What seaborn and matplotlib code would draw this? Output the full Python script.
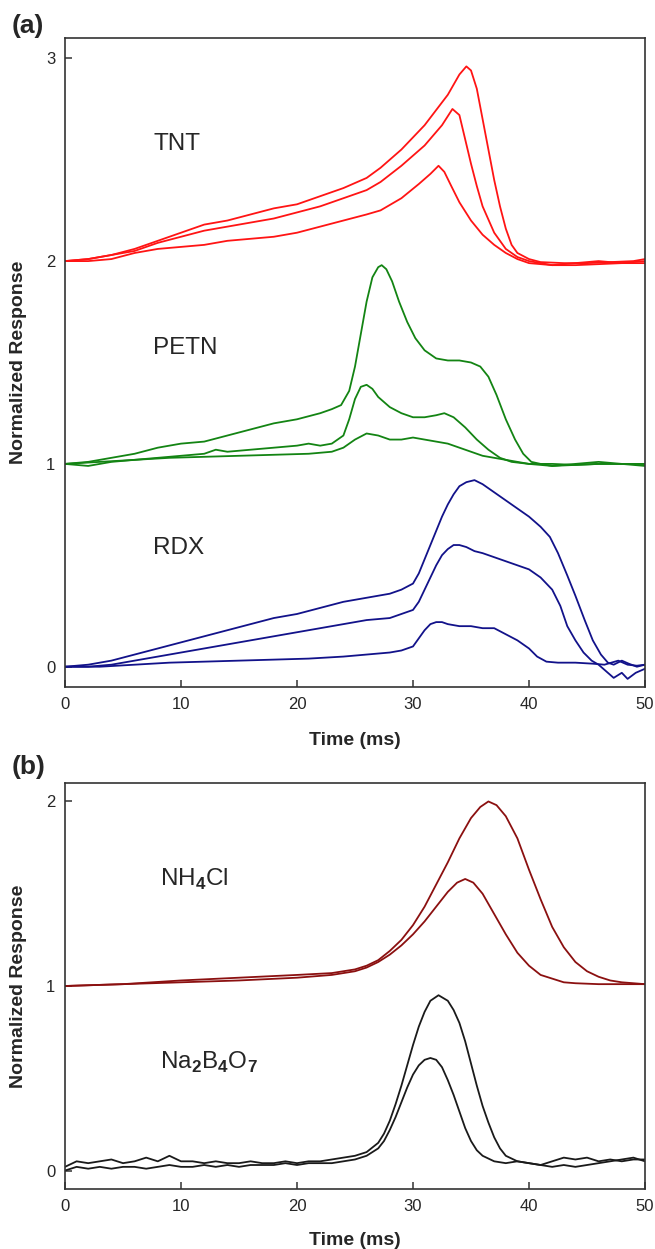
import matplotlib
matplotlib.use("Agg")
import matplotlib.pyplot as plt
import seaborn as sns

# ---- panel (a): explosives ----
tnt1_t = [0, 2, 4, 6, 8, 10, 12, 14, 16, 18, 20, 22, 24, 26, 27.2, 29, 31, 33, 34, 34.6, 35, 35.5, 36, 36.5, 37, 37.5, 38, 38.5, 39, 40, 41, 43, 45, 47, 49, 50]
tnt1_v = [2.0, 2.01, 2.03, 2.06, 2.1, 2.14, 2.18, 2.2, 2.23, 2.26, 2.28, 2.32, 2.36, 2.41, 2.46, 2.55, 2.67, 2.82, 2.92, 2.96, 2.94, 2.85, 2.7, 2.55, 2.4, 2.27, 2.16, 2.08, 2.04, 2.01, 1.995, 1.99, 1.99, 1.995, 2.0, 2.01]
tnt2_t = [0, 2, 4, 6, 8, 10, 12, 14, 16, 18, 20, 22, 24, 26, 27.2, 29, 31, 32.5, 33.4, 34, 34.5, 35, 35.5, 36, 37, 38, 39, 40, 42, 44, 46, 48, 50]
tnt2_v = [2.0, 2.01, 2.03, 2.05, 2.09, 2.12, 2.15, 2.17, 2.19, 2.21, 2.24, 2.27, 2.31, 2.35, 2.39, 2.47, 2.57, 2.67, 2.75, 2.72, 2.6, 2.48, 2.37, 2.27, 2.14, 2.06, 2.02, 2.0, 1.98, 1.99, 2.0, 1.99, 2.0]
tnt3_t = [0, 2, 4, 6, 8, 10, 12, 14, 16, 18, 20, 22, 24, 26, 27.2, 29, 30.5, 31.5, 32.2, 32.7, 33.3, 34, 35, 36, 37, 38, 39, 40, 42, 44, 46, 48, 50]
tnt3_v = [2.0, 2.0, 2.01, 2.04, 2.06, 2.07, 2.08, 2.1, 2.11, 2.12, 2.14, 2.17, 2.2, 2.23, 2.25, 2.31, 2.38, 2.43, 2.47, 2.44, 2.37, 2.29, 2.2, 2.13, 2.08, 2.04, 2.01, 1.99, 1.98, 1.98, 1.985, 1.99, 1.99]

petn1_t = [0, 2, 4, 6, 8, 10, 12, 14, 16, 18, 20, 22, 23, 23.8, 24.5, 25, 25.5, 26, 26.5, 27, 27.3, 27.7, 28.2, 28.8, 29.5, 30.2, 31, 32, 33, 34, 35, 35.8, 36.5, 37.2, 38, 38.8, 39.5, 40.2, 41, 42, 44, 46, 48, 50]
petn1_v = [1.0, 1.01, 1.03, 1.05, 1.08, 1.1, 1.11, 1.14, 1.17, 1.2, 1.22, 1.25, 1.27, 1.29, 1.36, 1.48, 1.64, 1.8, 1.92, 1.97, 1.98, 1.96, 1.9, 1.8, 1.7, 1.62, 1.56, 1.52, 1.51, 1.51, 1.5, 1.48, 1.43, 1.34, 1.22, 1.12, 1.05, 1.01, 1.0, 0.99, 0.995, 1.0, 1.0, 1.0]
petn2_t = [0, 2, 4, 6, 8, 10, 12, 13, 14, 16, 18, 20, 21, 22, 23, 24, 24.5, 25, 25.5, 26, 26.5, 27, 28, 29, 30, 31, 32, 32.7, 33.5, 34.5, 35.5, 36.5, 37.5, 38.5, 40, 42, 44, 46, 48, 50]
petn2_v = [1.0, 0.99, 1.01, 1.02, 1.03, 1.04, 1.05, 1.07, 1.06, 1.07, 1.08, 1.09, 1.1, 1.09, 1.1, 1.14, 1.22, 1.32, 1.38, 1.39, 1.37, 1.33, 1.28, 1.25, 1.23, 1.23, 1.24, 1.25, 1.23, 1.18, 1.12, 1.07, 1.03, 1.01, 1.0, 0.99, 1.0, 1.01, 1.0, 1.0]
petn3_t = [0, 3, 6, 9, 12, 15, 18, 21, 23, 24, 25, 26, 27, 28, 29, 30, 31, 32, 33, 34, 35, 36, 37, 38, 39, 40, 42, 44, 46, 48, 50]
petn3_v = [1.0, 1.01, 1.02, 1.03, 1.035, 1.04, 1.045, 1.05, 1.06, 1.08, 1.12, 1.15, 1.14, 1.12, 1.12, 1.13, 1.12, 1.11, 1.1, 1.08, 1.06, 1.04, 1.03, 1.02, 1.01, 1.0, 1.0, 0.995, 1.0, 1.0, 0.99]

rdx1_t = [0, 2, 4, 6, 8, 10, 12, 14, 16, 18, 20, 22, 24, 26, 28, 29, 30, 30.5, 31, 31.5, 32, 32.5, 33, 33.5, 34, 34.6, 35.3, 36, 37, 38, 39, 40, 41, 41.8, 42.5, 43.3, 44, 44.8, 45.5, 46.2, 46.8, 47.3, 48, 48.6, 49.3, 50]
rdx1_v = [0.0, 0.01, 0.03, 0.06, 0.09, 0.12, 0.15, 0.18, 0.21, 0.24, 0.26, 0.29, 0.32, 0.34, 0.36, 0.38, 0.41, 0.46, 0.53, 0.6, 0.67, 0.74, 0.8, 0.85, 0.89, 0.91, 0.92, 0.9, 0.86, 0.82, 0.78, 0.74, 0.69, 0.64, 0.56, 0.45, 0.35, 0.23, 0.13, 0.06, 0.02, 0.01, 0.03, 0.015, 0.0, 0.01]
rdx2_t = [0, 2, 4, 6, 8, 10, 12, 14, 16, 18, 20, 22, 24, 26, 28, 29, 30, 30.5, 31, 31.5, 32, 32.5, 33, 33.5, 34, 34.6, 35.3, 36, 37, 38, 39, 40, 41, 42, 42.7, 43.3, 44, 44.7, 45.4, 46, 46.6, 47.3, 48, 48.5, 49.2, 50]
rdx2_v = [0.0, 0.0, 0.01, 0.03, 0.05, 0.07, 0.09, 0.11, 0.13, 0.15, 0.17, 0.19, 0.21, 0.23, 0.24, 0.26, 0.28, 0.32, 0.38, 0.44, 0.5, 0.55, 0.58, 0.6, 0.6, 0.59, 0.57, 0.56, 0.54, 0.52, 0.5, 0.48, 0.44, 0.38, 0.3, 0.2, 0.13, 0.07, 0.03, 0.01, -0.02, -0.055, -0.03, -0.06, -0.03, -0.01]
rdx3_t = [0, 3, 6, 9, 12, 15, 18, 21, 24, 26, 28, 29, 30, 30.5, 31, 31.5, 32, 32.5, 33, 34, 35, 36, 37, 38, 39, 40, 40.7, 41.5, 42.5, 44, 45.5, 46.5, 47.7, 48.5, 49.3, 50]
rdx3_v = [0.0, 0.0, 0.01, 0.02, 0.025, 0.03, 0.035, 0.04, 0.05, 0.06, 0.07, 0.08, 0.1, 0.14, 0.18, 0.21, 0.22, 0.22, 0.21, 0.2, 0.2, 0.19, 0.19, 0.16, 0.13, 0.09, 0.05, 0.025, 0.02, 0.02, 0.015, 0.01, 0.03, 0.01, 0.005, 0.01]

# ---- panel (b): salts ----
nh1_t = [0, 5, 10, 15, 20, 23, 25, 26, 27, 28, 29, 30, 31, 32, 33, 34, 35, 35.8, 36.5, 37.2, 38, 39, 40, 41, 42, 43, 44, 45, 46, 47, 48, 50]
nh1_v = [1.0, 1.01, 1.03, 1.045, 1.06, 1.07, 1.09, 1.11, 1.14, 1.19, 1.25, 1.33, 1.43, 1.55, 1.67, 1.8, 1.91, 1.97, 2.0, 1.98, 1.92, 1.8, 1.63, 1.47, 1.32, 1.21, 1.13, 1.08, 1.05, 1.03, 1.02, 1.01]
nh2_t = [0, 5, 10, 15, 20, 23, 25, 26, 27, 28, 29, 30, 31, 32, 33, 33.8, 34.5, 35.2, 36, 37, 38, 39, 40, 41, 42, 43, 44, 46, 48, 50]
nh2_v = [1.0, 1.01, 1.02, 1.03, 1.045, 1.06, 1.08, 1.1, 1.13, 1.17, 1.22, 1.28, 1.35, 1.43, 1.51, 1.56, 1.58, 1.56, 1.5, 1.39, 1.28, 1.18, 1.11, 1.06, 1.04, 1.02, 1.015, 1.01, 1.01, 1.01]

nab1_t = [0, 1, 2, 3, 4, 5, 6, 7, 8, 9, 10, 11, 12, 13, 14, 15, 16, 17, 18, 19, 20, 21, 22, 23, 24, 25, 26, 27, 27.5, 28, 28.5, 29, 29.5, 30, 30.5, 31, 31.5, 32.2, 33, 33.5, 34, 34.5, 35, 35.5, 36, 36.5, 37, 37.5, 38, 39, 40, 41, 42, 43, 44, 45, 46, 47, 48, 49, 50]
nab1_v = [0.02, 0.05, 0.04, 0.05, 0.06, 0.04, 0.05, 0.07, 0.05, 0.08, 0.05, 0.05, 0.04, 0.05, 0.04, 0.04, 0.05, 0.04, 0.04, 0.05, 0.04, 0.05, 0.05, 0.06, 0.07, 0.08, 0.1, 0.15, 0.2, 0.27, 0.36, 0.46, 0.57, 0.68, 0.78, 0.86, 0.92, 0.95, 0.92, 0.87, 0.8, 0.7, 0.58, 0.46, 0.35, 0.26, 0.18, 0.12, 0.08, 0.05, 0.04, 0.03, 0.05, 0.07, 0.06, 0.07, 0.05, 0.06, 0.05, 0.06, 0.06]
nab2_t = [0, 1, 2, 3, 4, 5, 6, 7, 8, 9, 10, 11, 12, 13, 14, 15, 16, 17, 18, 19, 20, 21, 22, 23, 24, 25, 26, 27, 27.5, 28, 28.5, 29, 29.5, 30, 30.5, 31, 31.5, 32, 32.5, 33, 33.5, 34, 34.5, 35, 35.5, 36, 37, 38, 39, 40, 41, 42, 43, 44, 45, 46, 47, 48, 49, 50]
nab2_v = [0.0, 0.02, 0.01, 0.02, 0.01, 0.02, 0.02, 0.01, 0.02, 0.03, 0.02, 0.02, 0.03, 0.02, 0.03, 0.02, 0.03, 0.03, 0.03, 0.04, 0.03, 0.04, 0.04, 0.04, 0.05, 0.06, 0.08, 0.12, 0.16, 0.22, 0.29, 0.37, 0.45, 0.52, 0.57, 0.6, 0.61, 0.6, 0.56, 0.49, 0.41, 0.32, 0.23, 0.16, 0.11, 0.08, 0.05, 0.04, 0.05, 0.04, 0.03, 0.02, 0.03, 0.02, 0.03, 0.04, 0.05, 0.06, 0.07, 0.05]

sns.set_style("white")
plt.rcParams['font.family'] = ['Liberation Sans', 'DejaVu Sans']
plt.rcParams['mathtext.fontset'] = 'custom'
plt.rcParams['mathtext.rm'] = 'Liberation Sans'
plt.rcParams['mathtext.bf'] = 'Liberation Sans:bold'

RED = '#ff1414'
GREEN = '#138413'
BLUE = '#12128a'
DRED = '#8b1010'
BLACK = '#1a1a1a'

fig = plt.figure(figsize=(6.55, 12.49), dpi=100)
ax1 = fig.add_axes([65 / 655, 1 - 687 / 1249, 580 / 655, 649 / 1249])
ax2 = fig.add_axes([65 / 655, 1 - 1189 / 1249, 580 / 655, 406 / 1249])


def draw(ax, t, v, c):
    sns.lineplot(x=t, y=v, ax=ax, color=c, lw=1.3, sort=False, estimator=None)


for t, v in [(tnt1_t, tnt1_v), (tnt2_t, tnt2_v), (tnt3_t, tnt3_v)]:
    draw(ax1, t, v, RED)
for t, v in [(petn1_t, petn1_v), (petn2_t, petn2_v), (petn3_t, petn3_v)]:
    draw(ax1, t, v, GREEN)
for t, v in [(rdx1_t, rdx1_v), (rdx2_t, rdx2_v), (rdx3_t, rdx3_v)]:
    draw(ax1, t, v, BLUE)
for t, v in [(nh1_t, nh1_v), (nh2_t, nh2_v)]:
    draw(ax2, t, v, DRED)
for t, v in [(nab1_t, nab1_v), (nab2_t, nab2_v)]:
    draw(ax2, t, v, BLACK)

ax1.set_ylim(-0.1, 3.1)
ax1.set_yticks([0, 1, 2, 3])
ax2.set_ylim(-0.1, 2.1)
ax2.set_yticks([0, 1, 2])

for ax, lab_y in [(ax1, -45 / 649), (ax2, -43 / 406)]:
    ax.set_xlim(0, 50)
    ax.set_xticks([0, 10, 20, 30, 40, 50])
    ax.tick_params(direction='in', length=5, width=1.1, color='#333333',
                   labelsize=12, pad=7, bottom=True, left=True)
    for s in ax.spines.values():
        s.set_color('#333333')
        s.set_linewidth(1.2)
    ax.set_xlabel('Time (ms)', fontsize=14, fontweight='bold')
    ax.set_ylabel('Normalized Response', fontsize=14, fontweight='bold')
    ax.xaxis.set_label_coords(0.5, lab_y)
    ax.yaxis.set_label_coords(-38 / 580, 0.5)

ax1.text(7.6, 2.575, 'TNT', fontsize=17.5, va='center')
ax1.text(7.6, 1.57, 'PETN', fontsize=17.5, va='center')
ax1.text(7.6, 0.587, 'RDX', fontsize=17.5, va='center')
ax2.text(8.2, 1.58, r'NH$_\mathbf{4}$Cl', fontsize=17.5, va='center')
ax2.text(8.2, 0.585, r'Na$_\mathbf{2}$B$_\mathbf{4}$O$_\mathbf{7}$', fontsize=17.5, va='center')

fig.text(12 / 655, 1 - 26 / 1249, '(a)', fontsize=19, fontweight='bold', va='center')
fig.text(12 / 655, 1 - 767 / 1249, '(b)', fontsize=19, fontweight='bold', va='center')

fig.savefig('out.png', dpi=100)
